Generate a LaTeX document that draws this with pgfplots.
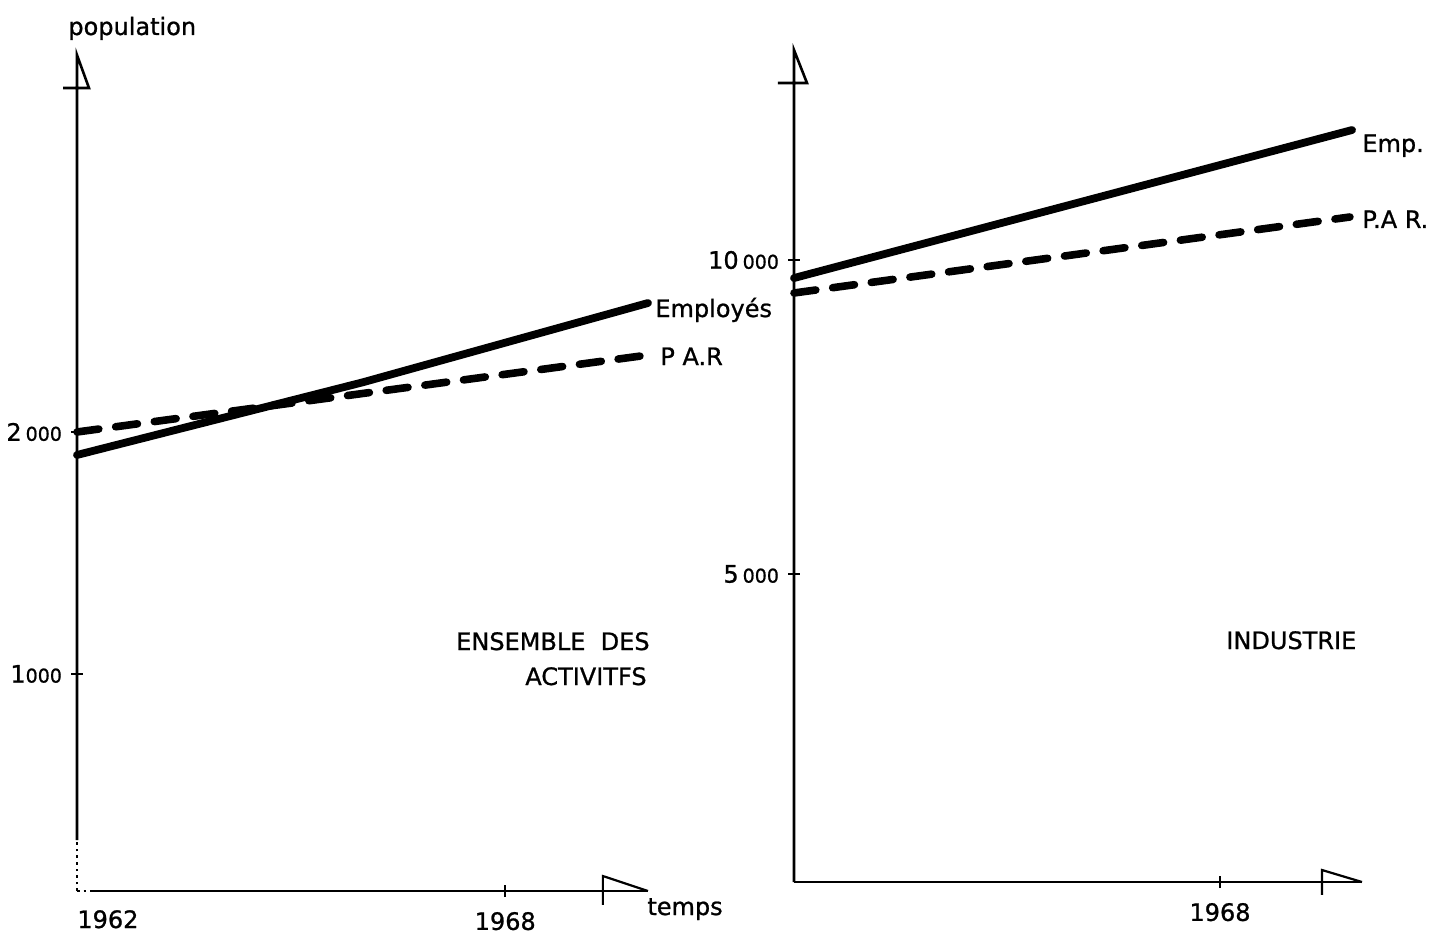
\documentclass[border=0pt]{standalone}
\usepackage{fontspec}
\setmainfont{DejaVu Sans}[FakeBold=0.9]
\usepackage{pgfplots}
\pgfplotsset{compat=1.18}
\newcommand\sz[1]{{\fontsize{9.5}{10}\selectfont #1}}
\newcommand\lbl{\fontsize{12}{14}\selectfont}
\begin{document}
\begin{tikzpicture}
\useasboundingbox (0,0) rectangle (718pt,467pt);
\pgfplotsset{
  base/.style={
    scale only axis, clip=false,
    axis line style={draw=none},
    tick pos=left,
    tick align=center, major tick length=6pt,
    tick style={line width=1pt, black},
    scaled ticks=false,
    xmin=1962, xmax=1970,
    /pgf/number format/assume math mode=true,
    ticklabel style={font=\lbl},
    xticklabel style={yshift=-4pt},
    yticklabel style={xshift=-1pt},
  },
  emp/.style={line width=3.9pt, line cap=round, black},
  par/.style={line width=3.8pt, line cap=round, black, dash pattern=on 11pt off 8.5pt},
}
% ---------- left panel ----------
\begin{axis}[base,
  at={(38.5pt,21.5pt)}, anchor=south west,
  width=285.5pt, height=418pt,
  ymin=103, ymax=3558,
  xtick={1968}, xticklabels={1968},
  ytick={1000,2000}, yticklabels={{1\sz{000}},{2\,\sz{000}}},
]
\addplot[emp] coordinates {(1962,1905) (1966,2205) (1970,2533)};
\addplot[par] coordinates {(1962,2000) (1970,2318)};
\draw[line width=1.3pt] (rel axis cs:0,0.061) -- (rel axis cs:0,1) -- (rel axis cs:0.021,0.9605) -- (rel axis cs:-0.0245,0.9605);
\draw[line width=1.3pt, dotted] (rel axis cs:0,0) -- (rel axis cs:0,0.061);
\draw[line width=1.3pt, dotted] (rel axis cs:0,0) -- (rel axis cs:0.028,0);
\draw[line width=1.3pt] (rel axis cs:0.028,0) -- (rel axis cs:1,0);
\draw[line width=1.1pt] (rel axis cs:0.921,-0.0167) -- (rel axis cs:0.921,0.0179) -- (rel axis cs:1,0);
\end{axis}
% ---------- right panel ----------
\begin{axis}[base,
  at={(397pt,26pt)}, anchor=south west,
  width=284pt, height=416pt,
  ymin=96, ymax=13344,
  xtick={1968}, xticklabels={1968},
  ytick={5000,10000}, yticklabels={{5\,\sz{000}},{10\,\sz{000}}},
]
\addplot[emp] coordinates {(1962,9713) (1969.86,12070)};
\addplot[par] coordinates {(1962,9475) (1969.83,10685)};
\draw[line width=1.3pt] (rel axis cs:0,0) -- (rel axis cs:0,1) -- (rel axis cs:0.0229,0.9603) -- (rel axis cs:-0.0282,0.9603);
\draw[line width=1.3pt] (rel axis cs:0,0) -- (rel axis cs:1,0);
\draw[line width=1.1pt] (rel axis cs:0.9296,-0.0156) -- (rel axis cs:0.9296,0.0144) -- (rel axis cs:1,0);
\end{axis}
% ---------- texts ----------
\node[anchor=base west, inner sep=0] at (34pt,449.5pt) {\lbl population};
\node[anchor=base west, inner sep=0] at (323.5pt,9.5pt) {\lbl temps};
\node[anchor=base west, inner sep=0] at (38.5pt,3pt) {\lbl 1962};
\node[anchor=base west, inner sep=0] at (327.5pt,308.5pt) {\lbl Employés};
\node[anchor=base west, inner sep=0] at (330pt,284.5pt) {\lbl P A.R};
\node[anchor=base east, inner sep=0] at (325pt,142pt) {\lbl ENSEMBLE\ \ DES};
\node[anchor=base east, inner sep=0] at (323.5pt,124.5pt) {\lbl ACTIVITFS};
\node[anchor=base west, inner sep=0] at (613pt,142.5pt) {\lbl INDUSTRIE};
\node[anchor=base west, inner sep=0] at (681pt,391pt) {\lbl Emp.};
\node[anchor=base west, inner sep=0] at (681pt,353pt) {\lbl P.A R.};
\end{tikzpicture}
\end{document}
